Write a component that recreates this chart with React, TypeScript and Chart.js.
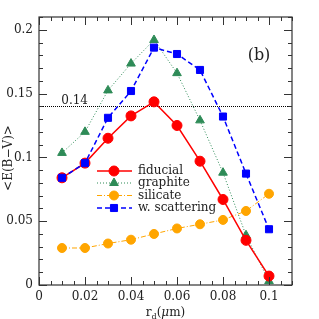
import { useEffect, useRef } from 'react';
import { Chart, registerables } from 'chart.js';
import { drawPoint } from 'chart.js/helpers';
Chart.register(...registerables);

const rd = [0.01, 0.02, 0.03, 0.04, 0.05, 0.06, 0.07, 0.08, 0.09, 0.1];
const fiducial = [0.084, 0.0955, 0.115, 0.1325, 0.1435, 0.125, 0.097, 0.067, 0.035, 0.007];
const graphite = [0.1035, 0.120, 0.1525, 0.1735, 0.192, 0.166, 0.129, 0.088, 0.039, 0.003];
const silicate = [0.029, 0.029, 0.0325, 0.0355, 0.040, 0.0443, 0.0476, 0.051, 0.058, 0.0715];
const wScattering = [0.084, 0.0955, 0.131, 0.152, 0.186, 0.181, 0.1685, 0.132, 0.0873, 0.0437];
const seriesLabels = ['fiducial', 'graphite', 'silicate', 'w. scattering'];
const xTicks = [0, 0.02, 0.04, 0.06, 0.08, 0.1];
const yTicks = [0, 0.05, 0.1, 0.15, 0.2];
const xTickLabels = ['0', '0.02', '0.04', '0.06', '0.08', '0.1'];
const yTickLabels = ['0', '0.05', '0.1', '0.15', '0.2'];
const refLevel = 0.14;
const refLabel = '0.14';
const panelLabel = '(b)';

const FONT = '"DejaVu Serif", serif';
const TEXT = '#222';

const styles = [
  { color: '#ff0000', dash: [] as number[], width: 1.5, point: 'circle', r: 5 },
  { color: '#2e8b57', dash: [1, 2], width: 1, point: 'triangle', r: 5 },
  { color: '#ffa500', dash: [5, 2, 1, 2], width: 1, point: 'circle', r: 4.5 },
  { color: '#0000ff', dash: [5, 3], width: 1.5, point: 'rect', r: 5 },
];
const seriesValues = [fiducial, graphite, silicate, wScattering];
const orders = [1, 2, 3, 0];

const framePlugin = {
  id: 'frame',
  beforeDatasetsDraw(chart: any) {
    const { ctx, chartArea: a, scales } = chart;
    const x = scales.x, y = scales.y;
    const py = Math.round(y.getPixelForValue(refLevel)) + 0.5;
    ctx.save();
    ctx.strokeStyle = '#000';
    ctx.lineWidth = 1;
    ctx.setLineDash([1, 1]);
    ctx.beginPath();
    ctx.moveTo(a.left, py);
    ctx.lineTo(a.right, py);
    ctx.stroke();
    ctx.setLineDash([]);
    ctx.fillStyle = TEXT;
    ctx.font = `12px ${FONT}`;
    ctx.textAlign = 'center';
    ctx.textBaseline = 'alphabetic';
    ctx.fillText(refLabel, x.getPixelForValue(0.0155), py - 3);
    ctx.restore();
  },
  afterDraw(chart: any) {
    const { ctx, chartArea: a, scales } = chart;
    const x = scales.x, y = scales.y;
    ctx.save();
    ctx.setLineDash([]);
    // frame
    ctx.strokeStyle = '#333';
    ctx.lineWidth = 1.2;
    ctx.strokeRect(a.left, a.top, a.right - a.left, a.bottom - a.top);
    // inward ticks on all four sides
    ctx.fillStyle = '#333';
    const L = Math.round(a.left), R = Math.round(a.right), T = Math.round(a.top), B = Math.round(a.bottom);
    for (let i = 0; i * 0.005 <= 0.11 + 1e-9; i++) {
      const px = Math.round(x.getPixelForValue(i * 0.005));
      const len = i % 4 === 0 ? 8 : 4;
      ctx.fillRect(px, B - len, 1, len);
      ctx.fillRect(px, T, 1, len);
    }
    for (let i = 0; i * 0.01 <= 0.21 + 1e-9; i++) {
      const py = Math.round(y.getPixelForValue(i * 0.01));
      const len = i % 5 === 0 ? 8 : 4;
      ctx.fillRect(L, py, len, 1);
      ctx.fillRect(R - len, py, len, 1);
    }
    // panel label
    ctx.fillStyle = TEXT;
    ctx.font = `16px ${FONT}`;
    ctx.textAlign = 'center';
    ctx.textBaseline = 'middle';
    ctx.fillText(panelLabel, 259, 56);
    // y title
    ctx.save();
    ctx.translate(9, (a.top + a.bottom) / 2 + 7);
    ctx.rotate(-Math.PI / 2);
    ctx.font = `12px ${FONT}`;
    ctx.textAlign = 'center';
    ctx.textBaseline = 'middle';
    ctx.fillText('<E(B\u2212V)>', 0, 0);
    ctx.restore();
    // x title r_d(μm)
    const parts = [
      { t: 'r', f: `12px ${FONT}`, dy: 0 },
      { t: 'd', f: `8px ${FONT}`, dy: 3 },
      { t: '(', f: `12px ${FONT}`, dy: 0 },
      { t: '\u03bc', f: `italic 12px ${FONT}`, dy: 0 },
      { t: 'm)', f: `12px ${FONT}`, dy: 0 },
    ];
    let total = 0;
    for (const p of parts) { ctx.font = p.f; total += ctx.measureText(p.t).width; }
    let cx = (a.left + a.right) / 2 - total / 2;
    ctx.textAlign = 'left';
    ctx.textBaseline = 'alphabetic';
    for (const p of parts) {
      ctx.font = p.f;
      ctx.fillText(p.t, cx, 316 + p.dy);
      cx += ctx.measureText(p.t).width;
    }
    // legend
    const rowY = [171, 183, 195.5, 208];
    for (let i = 0; i < 4; i++) {
      const s = styles[i];
      const ly = rowY[i];
      ctx.strokeStyle = s.color;
      ctx.lineWidth = s.width;
      ctx.setLineDash(s.dash);
      ctx.beginPath();
      ctx.moveTo(97, ly); ctx.lineTo(132, ly);
      ctx.stroke();
      ctx.setLineDash([]);
      ctx.fillStyle = s.color;
      ctx.lineWidth = 1;
      drawPoint(ctx, { pointStyle: s.point, radius: s.r, rotation: 0, borderWidth: 1 } as any, 114, ly);
      ctx.fillStyle = TEXT;
      ctx.font = `12px ${FONT}`;
      ctx.textBaseline = 'middle';
      ctx.fillText(seriesLabels[i], 138, ly);
    }
    ctx.restore();
  },
};

export default function App() {
  const ref = useRef<HTMLCanvasElement>(null);
  useEffect(() => {
    if (!ref.current) return;
    const chart = new Chart(ref.current, {
      type: 'line',
      data: {
        datasets: seriesLabels.map((label, i) => ({
          label,
          data: rd.map((v, j) => ({ x: v, y: seriesValues[i][j] })),
          borderColor: styles[i].color,
          backgroundColor: styles[i].color,
          borderWidth: styles[i].width,
          borderDash: styles[i].dash,
          pointStyle: styles[i].point as any,
          pointRadius: styles[i].r,
          pointBorderWidth: 1,
          pointBackgroundColor: styles[i].color,
          pointBorderColor: styles[i].color,
          order: orders[i],
          tension: 0,
        })),
      },
      options: {
        animation: false,
        responsive: false,
        devicePixelRatio: 1,
        layout: { padding: { top: 17, right: 27, left: 0, bottom: 0 } },
        plugins: { legend: { display: false }, tooltip: { enabled: false } },
        scales: {
          x: {
            type: 'linear',
            min: 0,
            max: 0.11,
            grid: { display: false, drawTicks: false },
            border: { display: false },
            afterFit: (s: any) => { s.height = 34; },
            afterBuildTicks: (s: any) => { s.ticks = xTicks.map((v) => ({ value: v })); },
            ticks: {
              padding: 5,
              color: TEXT,
              font: { family: '"DejaVu Serif", serif', size: 12 },
              maxRotation: 0,
              callback: (v: any) => xTickLabels[xTicks.findIndex((t) => Math.abs(t - v) < 1e-9)] ?? '',
            },
          },
          y: {
            type: 'linear',
            min: 0,
            max: 0.21,
            grid: { display: false, drawTicks: false },
            border: { display: false },
            afterFit: (s: any) => { s.width = 39; },
            afterBuildTicks: (s: any) => { s.ticks = yTicks.map((v) => ({ value: v })); },
            ticks: {
              padding: 6,
              color: TEXT,
              font: { family: '"DejaVu Serif", serif', size: 12 },
              callback: (v: any) => yTickLabels[yTicks.findIndex((t) => Math.abs(t - v) < 1e-9)] ?? '',
            },
          },
        },
      },
      plugins: [framePlugin],
    });
    return () => chart.destroy();
  }, []);
  return (
    <div style={{ position: 'absolute', left: 0, top: 0, width: 319, height: 319 }}>
      <canvas ref={ref} width={319} height={319} />
    </div>
  );
}
